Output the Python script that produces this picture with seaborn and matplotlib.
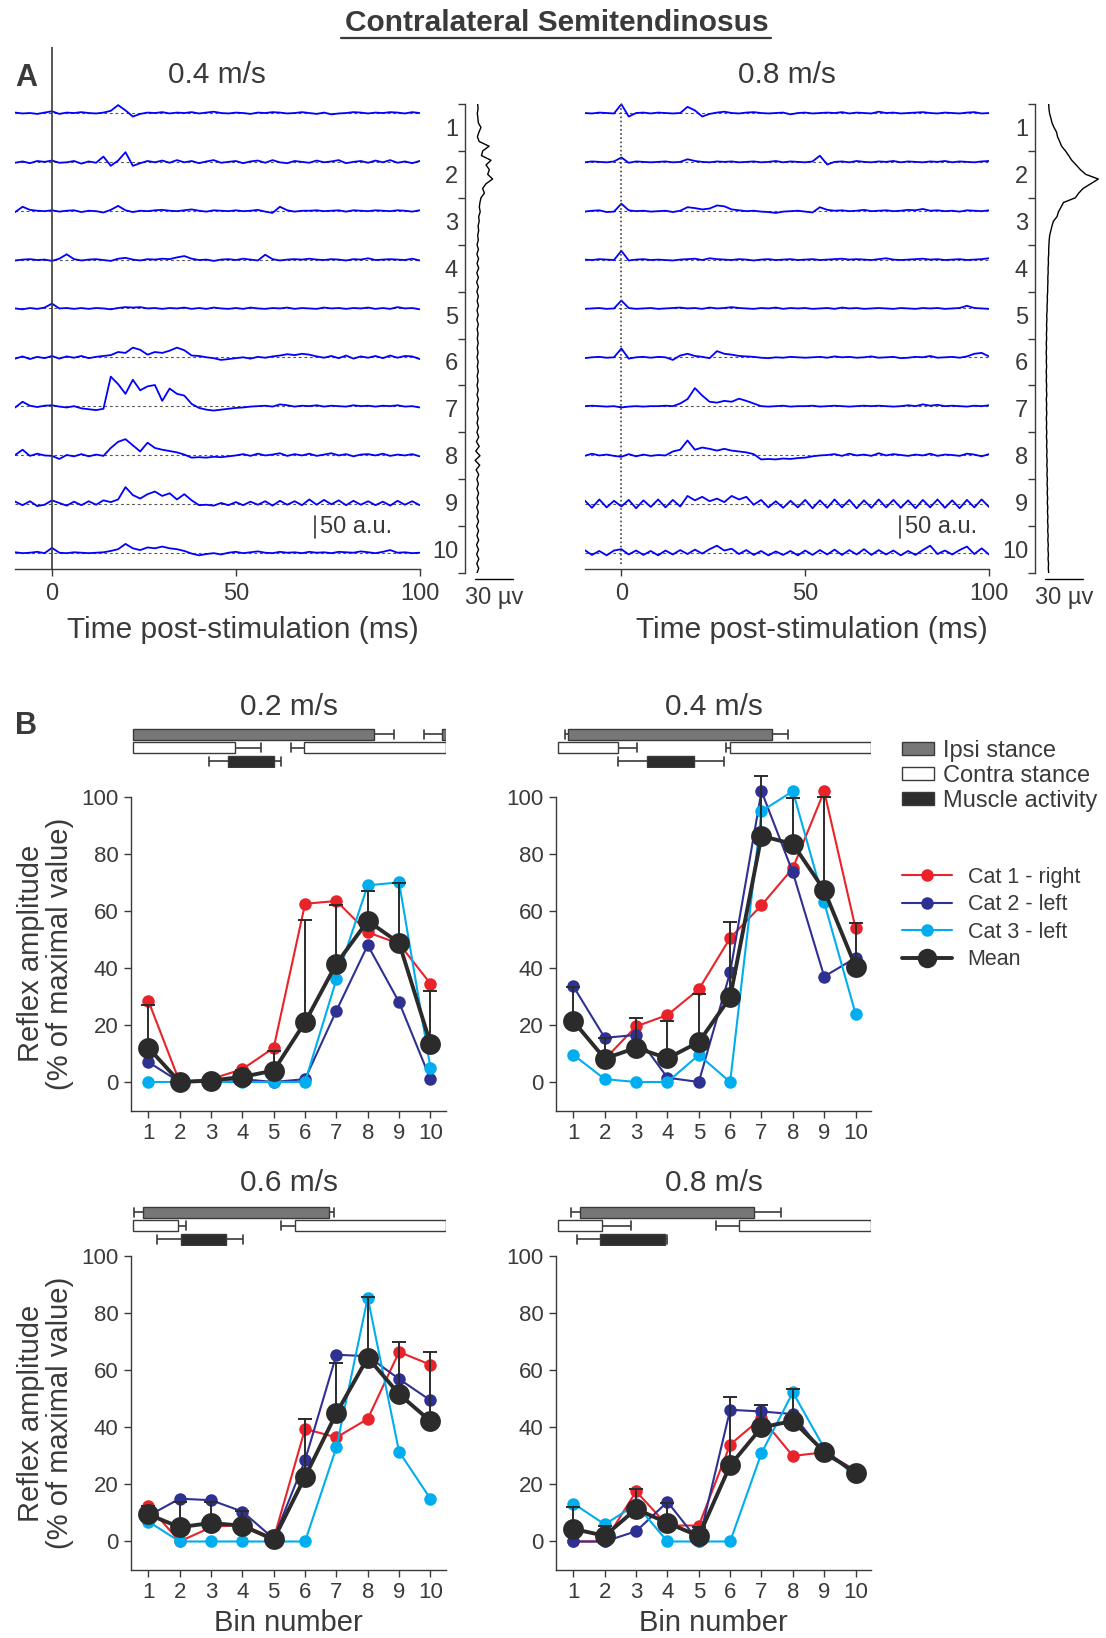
import numpy as np
import matplotlib
matplotlib.use("Agg")
import matplotlib.pyplot as plt
from matplotlib.lines import Line2D
from matplotlib.patches import Patch
import seaborn as sns

sns.set_theme(style="ticks")
INK = "#3a3a3a"
plt.rcParams["font.family"] = ["Liberation Sans", "DejaVu Sans"]
plt.rcParams.update({"text.color": INK, "axes.edgecolor": INK, "axes.labelcolor": INK,
                     "xtick.color": INK, "ytick.color": INK, "axes.linewidth": 1.0})

# ---------------- panel A: averaged EMG traces (a.u.), one per bin, 2 ms grid ----------------
t_ms = np.arange(-10, 101, 2)

slow_traces = [  # 0.4 m/s, bins 1..10
    [1,-1,0,-2,1,4,-2,1,0,2, 0,-1,1,5,18,6,-8,-2,1,0, 2,-1,1,0,2,-1,1,3,0,-1, 1,0,-2,1,0,2,1,-1,0,2, 0,-2,1,-3,-1,0,2,1,-1,1, 0,2,1,-1,2,0],
    [-2,1,-3,2,0,3,-2,-1,2,-4, 1,-2,12,-9,3,22,-9,-3,2,-1, 3,-2,4,-1,2,-3,1,4,-2,0, 2,-3,1,3,-2,4,-1,-3,2,0, -2,3,-1,1,4,-3,0,2,-2,3, -1,4,-2,1,-3,2],
    [-3,9,2,0,-1,1,-2,0,1,-3, 0,-1,-4,2,11,1,-3,0,-1,1, 2,0,-1,1,3,0,-2,1,0,-1, 1,-1,0,2,-2,-5,9,1,-2,0, 0,1,-1,0,1,-2,1,0,-1,1, 0,-1,1,0,-2,1],
    [-2,0,1,-1,0,-3,2,12,1,-2, 0,1,-1,-3,2,4,0,-2,1,0, 2,1,5,8,2,-1,0,-3,0,1, -1,2,0,-2,11,1,-2,0,1,0, 2,0,-1,1,0,-2,1,0,3,-1, 0,1,0,-1,2,-2],
    [0,-2,1,-1,2,11,0,1,-1,1, -1,1,0,-2,1,3,2,3,0,1, -1,1,0,2,-1,1,-1,2,0,-1, 1,-1,2,0,-1,1,0,2,-1,1, 0,-1,2,0,1,-1,1,0,2,-1, 1,-1,3,0,1,-2],
    [-3,2,-4,1,-2,3,-3,2,-1,3, -2,1,3,5,12,10,22,17,6,12, 10,15,22,16,4,3,0,-2,-6,-4, -2,0,-3,1,-1,2,4,7,5,8, 6,2,-1,3,-2,4,-3,2,-1,3, -2,4,-1,3,2,-4],
    [-3,10,1,-2,1,2,-1,-3,0,-5, -7,-9,-6,67,50,28,60,36,45,48, 12,40,28,24,5,-4,-8,-10,-8,-6, -4,-3,-1,0,1,-1,4,2,-1,1, 0,2,-1,1,0,-1,2,0,1,-1, 1,0,2,-1,0,-3],
    [0,12,-2,3,-1,-2,-9,0,-3,2, -3,1,-2,16,30,36,22,8,28,16, 12,9,6,1,-6,-5,-6,-4,-5,-3, -1,2,-2,3,-1,1,4,-2,2,-1, 3,-2,1,4,-1,2,-3,1,2,-1, 3,-2,1,-1,2,-3],
    [5,-3,6,-5,-2,8,2,-4,5,-3, 6,-2,8,4,10,38,20,12,22,28, 18,24,10,22,8,-3,-2,-4,2,-3, 4,-3,5,-2,6,-4,7,-2,6,-3, 10,-2,9,-1,8,-3,7,-2,6,-3, 5,-4,7,-2,6,-3],
    [1,-1,0,2,-1,11,0,-1,1,0, -1,0,1,4,8,20,10,6,12,10, 14,10,8,4,-2,-6,-3,-1,-4,0, 2,-1,1,3,0,-1,2,0,1,-1, 2,0,1,-1,2,1,0,3,1,-1, 2,6,0,1,-1,0],
]
fast_traces = [  # 0.8 m/s, bins 1..10
    [0,-1,1,0,-1,20,-8,0,1,-1, 1,0,-1,0,14,6,-8,-2,1,3, 0,-1,1,2,0,-1,0,1,-3,0, 1,-1,0,1,0,2,-1,1,0,-1, 3,0,1,-1,0,1,2,0,-1,1, 0,-1,1,2,-1,0],
    [-1,1,0,-1,1,10,-2,1,0,-1, 0,1,-1,0,6,2,0,-1,1,0, 1,-1,0,1,-1,0,2,-1,1,0, -1,1,14,-6,0,1,-1,2,0,-1, 1,0,2,-1,1,0,-1,1,0,2, -1,1,0,-1,1,2],
    [-2,0,1,-3,-2,16,1,-1,0,-2, -1,0,-3,0,8,6,3,5,12,10, 3,1,-1,0,-2,-3,-5,-2,-1,0, -2,-4,8,2,0,1,-1,0,2,-1, 0,1,-1,0,2,1,4,0,1,-1, 0,-2,1,0,-1,1],
    [0,-1,1,0,-1,20,-2,0,1,-1, 0,-1,-2,0,1,2,-1,3,1,0, -1,1,0,-2,0,1,-1,0,1,-1, 0,1,-1,0,1,2,0,1,0,-1, 1,3,0,-1,0,1,2,0,1,-1, 0,1,-1,0,1,3],
    [-1,0,1,-1,0,18,1,-1,0,1, -1,0,1,2,0,1,-1,2,0,1, 3,1,0,-1,1,0,2,-1,1,0, 1,-1,0,1,-1,2,0,1,-1,0, 1,0,-1,1,0,-1,1,0,1,-1, 0,1,6,1,0,-1],
    [-2,0,1,-1,0,20,-3,0,1,-1, 1,0,-6,4,8,3,1,-2,14,8, 6,3,2,1,-1,-2,0,-1,1,0, -1,0,1,-1,2,0,1,-1,0,2, -1,0,1,-2,-1,1,0,3,-1,0, 1,-1,2,8,10,2],
    [0,1,0,-1,0,-3,-1,0,-1,0, 0,1,0,6,16,41,24,10,8,12, 10,17,12,6,0,-1,0,1,-1,0, 0,1,-1,0,1,0,-1,0,1,0, 1,0,-1,0,2,0,4,1,3,0, 1,0,-1,1,0,2],
    [-2,3,-1,1,-2,-4,2,-3,1,-2, 0,-1,8,12,33,12,17,14,10,14, 10,8,6,2,-10,-9,-10,-8,-9,-7, -6,-3,-1,0,2,-2,3,-1,1,-2, 4,-1,2,0,-2,1,-1,3,-2,1, 0,-2,3,1,-3,2],
    [8,-9,10,-8,7,-6,9,-10,8,-7, 10,-8,9,-6,18,8,16,6,12,4, 18,10,16,-2,9,-8,6,-9,7,-8, 9,-10,8,-9,10,-8,9,-10,8,-9, 10,-8,9,-9,8,-10,9,-8,10,-9, 8,-10,9,-8,10,-7],
    [6,-5,4,-6,5,8,-4,5,-5,4, -6,5,-4,6,-3,7,-2,8,16,5, 9,-3,6,-5,4,-6,3,-5,4,-6, 5,-5,6,-4,7,-5,6,-4,8,-5, 6,-4,5,-6,4,-5,6,16,-3,5, -4,6,14,-3,10,-4],
]

# raw EMG envelope over the step cycle (uV), 0.1-bin grid
cycle_bins = np.round(np.arange(0, 10.01, 0.1), 1)
slow_profile = [0,0.3,-0.3,0.2,0.5,2.6,1.0,-0.2,1.2,9.0,
                4,3,10.5,6.6,9.2,7.9,11.8,6.6,3.9,5.3,
                2.6,1.8,1.3,2,0.8,1.2,0.3,0.8,0,0.5,
                -0.5,0.6,-0.6,0.7,-0.5,0.8,-0.7,0.6,-0.8,0.5,
                -0.6,0.5,-0.4,0.6,-0.5,0.4,-0.6,0.5,-0.4,0.3,
                -0.3,0.4,-0.4,0.3,-0.5,0.4,-0.3,0.5,-0.4,0.3,
                -0.5,0.4,-0.5,0.6,-0.4,0.5,-0.6,0.4,-0.5,0.6,
                -0.6,0.8,-1.0,1.2,-1.5,1.8,-2.0,1.6,-1.2,0.8,
                -0.6,0.5,-0.6,0.7,-0.5,0.6,-0.7,0.5,-0.6,0.7,
                -0.8,0.7,-0.6,0.8,-0.9,0.7,-0.8,0.9,-0.7,0.8,
                -0.5]
fast_profile = [0.8,1.0,1.5,2.5,3.4,5,7,7.8,9.5,11,
                14,16.6,19,22.5,25.8,30,40,34,28,24.5,
                21.8,12.5,10.5,8.5,7.4,4.5,3.4,2.5,1.6,1.2,
                1.0,0.8,0.8,0.5,0.6,0.3,0.4,0.1,0.2,0.0,
                0.0,-0.3,-0.2,-0.5,-0.4,-0.8,-0.6,-0.9,-0.7,-1.0,
                -0.8,-1.1,-0.9,-1.2,-0.9,-1.1,-0.8,-1.2,-0.9,-1.1,
                -0.8,-1.0,-0.7,-1.1,-0.8,-1.0,-0.7,-1.1,-0.8,-1.0,
                -0.7,-1.0,-0.6,-0.9,-0.5,-0.8,-0.4,-0.7,-0.3,-0.6,
                -0.2,-0.5,-0.1,-0.4,0.0,-0.3,0.1,-0.2,0.2,-0.1,
                0.3,0.0,0.4,0.1,0.5,0.2,0.6,0.3,0.7,0.5,
                0.8]

# ---------------- panel B: reflex amplitude per bin (% of max) ----------------
speeds = ["0.2 m/s", "0.4 m/s", "0.6 m/s", "0.8 m/s"]
bins = np.arange(1, 11)
cat1 = [[28.5, 0, 1, 4.5, 12, 62.5, 63.5, 52.5, 48.5, 34.5],
        [21, 8, 19.5, 23.5, 32.5, 50.5, 62, 75, 102, 54],
        [12.5, 0, 5, 6, 1, 39.5, 36.5, 43, 66.5, 62],
        [0, 0, 17.6, 5.6, 5.6, 34, 43.3, 30, 31.3, 25]]
cat2 = [[7, 0, 0.5, 1, 0, 1, 25, 48, 28, 1],
        [33.5, 15.5, 16.5, 1.5, 0, 38.5, 102, 73.5, 37, 43.5],
        [9, 15, 14.5, 10.5, 1, 28.5, 65.5, 65, 57, 49.5],
        [0, 0, 3.6, 13.9, 0, 46.2, 45.6, 44.7, 30.5, 24.6]]
cat3 = [[0, 0, 0, 0, 0, 0, 36, 69, 70, 5],
        [9.5, 1, 0, 0, 9.5, 0, 95, 102, 63, 24],
        [7, 0, 0, 0, 0, 0, 33, 85.5, 31.5, 15],
        [13.3, 6, 13, 0, 0, 0, 31, 52.3, 32.8, 22.6]]
mean_amp = [[12, 0, 0.5, 1.8, 4, 21, 41.5, 56.5, 48.8, 13.5],
            [21.3, 8.2, 12, 8.3, 14, 29.7, 86.3, 83.5, 67.3, 40.5],
            [9.5, 5, 6.5, 5.5, 0.7, 22.7, 45, 64.5, 51.7, 42.2],
            [4.4, 2, 11.4, 6.5, 1.9, 26.7, 40, 42.3, 31.5, 24.1]]
sd_amp = [[14.9, 0, 0.5, 2.3, 6.9, 35.8, 20.5, 10.5, 21, 18.3],
          [12, 7.3, 10.4, 13.2, 16.8, 26.3, 21.2, 16, 32.5, 15.4],
          [2.8, 8.7, 7.5, 5.3, 0.6, 20.1, 17.7, 21.3, 18.1, 24.3],
          [7.7, 3.5, 7.1, 7, 3.2, 24, 7.9, 11.3, 0.9, 1.3]]

# step-cycle phases (% of cycle) with SD
ipsi_on = [-1.4, 3.4, 3.2, 7.1];    ipsi_on_sd = [5.5, 1.1, 2.7, 3.0]
ipsi_off = [77.1, 68.3, 62.6, 62.7]; ipsi_off_sd = [6.2, 5.3, 1.6, 8.6]
contra_off = [32.5, 19.3, 14.6, 14.0]; contra_off_sd = [8.5, 5.9, 2.4, 9.4]
contra_on = [54.8, 55.0, 51.9, 57.8];  contra_on_sd = [4.3, 1.4, 4.5, 7.4]
emg_on = [30.5, 28.6, 15.4, 13.5];  emg_on_sd = [6.2, 9.5, 7.6, 7.4]
emg_off = [45.2, 43.6, 29.8, 34.2]; emg_off_sd = [2.2, 9.5, 5.5, 0.6]

RED, NAVY, CYAN, DARK = "#e8232a", "#2e3192", "#00aeef", "#2b2b2b"
IPSI_C, MUS_C = "#777777", "#2d2d2d"

W, H = 1106, 1638
def box(x0, y0, x1, y1):
    return [x0 / W, 1 - y1 / H, (x1 - x0) / W, (y1 - y0) / H]

fig = plt.figure(figsize=(W / 100, H / 100), dpi=100)

fig.text(557 / W, 1 - 23 / H, "Contralateral Semitendinosus", ha="center", va="center",
         fontsize=21.5, fontweight="bold")
fig.add_artist(Line2D([341 / W, 771 / W], [1 - 38 / H, 1 - 38 / H], color=INK, lw=1.6))
fig.text(26 / W, 1 - 78 / H, "A", ha="center", va="center", fontsize=22, fontweight="bold")
fig.text(26 / W, 1 - 726 / H, "B", ha="center", va="center", fontsize=22, fontweight="bold")

GAP = 111  # a.u. between stacked traces

def trace_panel(rect, traces, title, dotted):
    ax = fig.add_axes(rect)
    for k, tr in enumerate(traces):
        base = -GAP * k
        ax.plot([-10, 100], [base, base], ls=(0, (2.5, 2.5)), color="#555555", lw=0.8)
        sns.lineplot(x=t_ms, y=np.asarray(tr, float) + base, color="#0000ff", lw=1.3,
                     errorbar=None, ax=ax)
    if dotted:
        ax.vlines(0, -1025, 20, colors="#444444", linestyles=(0, (1, 1.5)), lw=1.2)
    else:
        ax.axvline(0, color=INK, lw=1.2)
    sb_x = 71.6 if not dotted else 75.8
    ax.plot([sb_x, sb_x], [-GAP * 9 + 34, -GAP * 9 + 84], color=INK, lw=1.2)
    ax.text(sb_x + 1.3, -GAP * 9 + 59, "50 a.u.", ha="left", va="center", fontsize=17)
    ax.set_xlim(-10, 100)
    ax.set_ylim(-1036, 150)
    sns.despine(ax=ax, left=True)
    ax.set_yticks([])
    ax.set_xticks([0, 50, 100])
    ax.tick_params(axis="x", labelsize=17, length=5, width=1, pad=5)
    ax.set_xlabel("Time post-stimulation (ms)", fontsize=21.5, va="top")
    ax.xaxis.set_label_coords(0.563, -0.09)
    cx = rect[0] + rect[2] / 2
    fig.text(cx, 1 - 75 / H, title, ha="center", va="center", fontsize=21.5)
    return ax

def profile_panel(rect, prof):
    ax = fig.add_axes(rect)
    sns.lineplot(x=prof, y=cycle_bins, orient="y", estimator=None, color="black", lw=1.0,
                 ax=ax)
    ax.set_xlim(-10, 45)
    ax.set_ylim(10, 0)
    sns.despine(ax=ax, bottom=True)
    ax.set_xticks([])
    ax.set_xlabel("")
    ax.set_ylabel("")
    ax.set_yticks(np.arange(0, 11))
    ax.set_yticklabels([])
    ax.set_yticks(np.arange(0.5, 10, 1), minor=True)
    ax.set_yticklabels([str(i) for i in range(1, 11)], minor=True)
    ax.tick_params(axis="y", which="major", length=5, width=1)
    ax.tick_params(axis="y", which="minor", length=0, labelsize=17, pad=5)
    ax.plot([-2, 28], [10.12, 10.12], color="black", lw=1.0, clip_on=False)
    ax.text(13, 10.3, "30 µv", ha="center", va="top", fontsize=17)
    return ax

trace_panel(box(15.2, 47, 419.6, 569), slow_traces, "0.4 m/s", False)
trace_panel(box(584.6, 47, 989, 569), fast_traces, "0.8 m/s", True)
profile_panel(box(465, 104, 534.7, 573), slow_profile)
profile_panel(box(1035, 104, 1104.7, 573), fast_profile)

# ---------------- panel B ----------------
col_x = [131.1, 556.2]
row_y = [(796.9, 1110.5), (1256.4, 1570.0)]   # pixel rows of y=100 and y=-10
bar_y = [(727.5, 768.0), (1205.5, 1246.0)]
title_y = [707, 1183]
PX_PER_UNIT = (1110.5 - 796.9) / 110

def whisker(ax, y, x_from, x_to, h):
    ax.plot([x_from, x_to], [y, y], color=INK, lw=1.2, solid_capstyle="butt")
    ax.plot([x_to, x_to], [y - h / 2, y + h / 2], color=INK, lw=1.2)

def phase_panel(rect, i):
    ax = fig.add_axes(rect)
    h = 0.78
    kw = dict(height=h, edgecolor=INK, linewidth=1.0)
    # ipsilateral stance
    if ipsi_on[i] < 0:
        start = ipsi_on[i] + 100
        ax.barh(0, ipsi_off[i], left=0, color=IPSI_C, **kw)
        ax.barh(0, 100 - start, left=start, color=IPSI_C, **kw)
        whisker(ax, 0, start, start - ipsi_on_sd[i], h * 0.9)
    else:
        ax.barh(0, ipsi_off[i] - ipsi_on[i], left=ipsi_on[i], color=IPSI_C, **kw)
        whisker(ax, 0, ipsi_on[i], ipsi_on[i] - ipsi_on_sd[i], h * 0.9)
    whisker(ax, 0, ipsi_off[i], ipsi_off[i] + ipsi_off_sd[i], h * 0.9)
    # contralateral stance (wraps around the cycle)
    ax.barh(1, contra_off[i], left=0, color="white", **kw)
    whisker(ax, 1, contra_off[i], contra_off[i] + contra_off_sd[i], h * 0.9)
    ax.barh(1, 100 - contra_on[i], left=contra_on[i], color="white", **kw)
    whisker(ax, 1, contra_on[i], contra_on[i] - contra_on_sd[i], h * 0.9)
    # muscle activity
    ax.barh(2, emg_off[i] - emg_on[i], left=emg_on[i], color=MUS_C, **kw)
    whisker(ax, 2, emg_on[i], emg_on[i] - emg_on_sd[i], h * 0.9)
    whisker(ax, 2, emg_off[i], emg_off[i] + emg_off_sd[i], h * 0.9)
    ax.set_xlim(-0.5, 100)
    ax.set_ylim(2.5, -0.5)
    ax.axis("off")

for i, sp in enumerate(speeds):
    r, c = divmod(i, 2)
    x0 = col_x[c]
    y0, y1 = row_y[r]
    ax = fig.add_axes(box(x0, y0 - 10 * PX_PER_UNIT, x0 + 315, y1))
    for vals, col in ((cat1[i], RED), (cat2[i], NAVY), (cat3[i], CYAN)):
        sns.lineplot(x=bins, y=vals, color=col, marker="o", markersize=9, markeredgewidth=0,
                     linewidth=1.5, errorbar=None, ax=ax)
    ax.errorbar(bins, mean_amp[i], yerr=[np.zeros(10), sd_amp[i]], fmt="none", ecolor=DARK,
                elinewidth=1.4, capsize=5, capthick=1.4, zorder=3)
    sns.lineplot(x=bins, y=mean_amp[i], color=DARK, marker="o", markersize=15,
                 markeredgewidth=0, linewidth=2.8, errorbar=None, ax=ax, zorder=4)
    ax.set_xlim(0.45, 10.5)
    ax.set_ylim(-10, 110)
    ax.set_xticks(bins)
    ax.set_yticks(np.arange(0, 101, 20))
    ax.tick_params(labelsize=16, length=5, width=1, pad=4)
    sns.despine(ax=ax)
    ax.spines["left"].set_bounds(-10, 100)
    ax.set_xlabel("")
    ax.set_ylabel("")
    if r == 1:
        ax.set_xlabel("Bin number", fontsize=21, va="top")
        ax.xaxis.set_label_coords(0.5, -0.115)
    if c == 0:
        ax.set_ylabel("Reflex amplitude\n(% of maximal value)", fontsize=21, linespacing=1.05)
        ax.yaxis.set_label_coords(-0.18, 110 / 240)
    by0, by1 = bar_y[r]
    phase_panel(box(x0, by0, x0 + 315, by1), i)
    fig.text((x0 + 157.5) / W, 1 - title_y[r] / H, sp, ha="center", va="center", fontsize=21.5)

bar_handles = [Patch(facecolor=IPSI_C, edgecolor=INK, lw=1.0),
               Patch(facecolor="white", edgecolor=INK, lw=1.0),
               Patch(facecolor=MUS_C, edgecolor=INK, lw=1.0)]
fig.legend(bar_handles, ["Ipsi stance", "Contra stance", "Muscle activity"],
           loc="upper left", bbox_to_anchor=(902 / W, 1 - 740 / H), frameon=False,
           fontsize=17, handlelength=1.35, handleheight=0.45, handletextpad=0.4,
           labelspacing=0.12, borderpad=0, borderaxespad=0)
line_handles = [Line2D([0], [0], color=RED, marker="o", ms=9, mew=0, lw=1.5),
                Line2D([0], [0], color=NAVY, marker="o", ms=9, mew=0, lw=1.5),
                Line2D([0], [0], color=CYAN, marker="o", ms=9, mew=0, lw=1.5),
                Line2D([0], [0], color=DARK, marker="o", ms=14, mew=0, lw=2.8)]
fig.legend(line_handles, ["Cat 1 - right", "Cat 2 - left", "Cat 3 - left", "Mean"],
           loc="upper left", bbox_to_anchor=(902 / W, 1 - 867 / H), frameon=False,
           fontsize=15.5, handlelength=2.3, handletextpad=0.75, labelspacing=0.3,
           borderpad=0, borderaxespad=0)

fig.savefig("out.png", dpi=100)
